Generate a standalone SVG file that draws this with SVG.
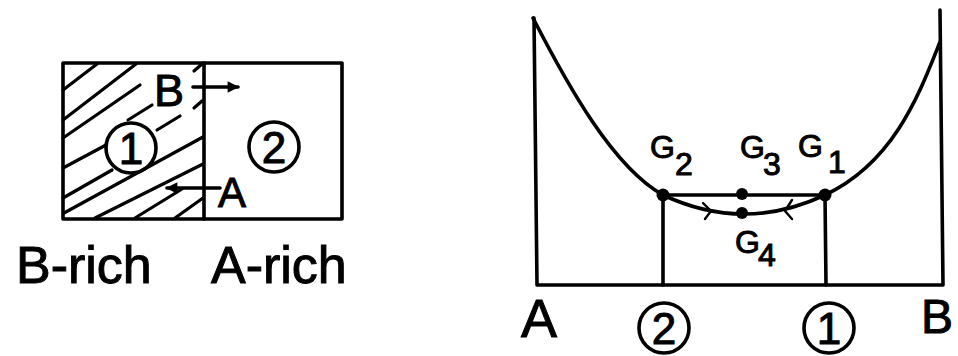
<svg xmlns="http://www.w3.org/2000/svg" width="958" height="356" viewBox="0 0 958 356">
<defs>
<style>
.ln{fill:none;stroke:#000;stroke-width:3.6;stroke-linecap:round;stroke-linejoin:round}
.th{fill:none;stroke:#000;stroke-width:3.2;stroke-linecap:round}
.thin{fill:none;stroke:#000;stroke-width:2.4;stroke-linecap:round;stroke-linejoin:round}
.dot{fill:#000}
.t{font-family:"Liberation Sans",Arial,sans-serif;fill:#000;stroke:#000;stroke-width:1}
</style>
<marker id="ah" viewBox="0 0 10 10" refX="9" refY="5" markerWidth="5" markerHeight="3.2" orient="auto" markerUnits="strokeWidth">
<path d="M0,0 L10,5 L0,10 Z" fill="#000"/>
</marker>
</defs>
<rect width="958" height="356" fill="#fff"/>

<!-- Left schematic -->
<g id="left-box">
<rect class="ln" x="63" y="63" width="279" height="156"/>
<line class="ln" x1="204" y1="63" x2="204" y2="219"/>
</g>
<g id="hatching">
<line class="th" x1="63" y1="90" x2="97" y2="64"/>
<line class="th" x1="63" y1="120" x2="136" y2="64"/>
<line class="th" x1="63" y1="138" x2="140" y2="85"/>
<line class="th" x1="63" y1="168" x2="106" y2="145"/>
<line class="th" x1="128" y1="120" x2="152" y2="105"/>
<line class="th" x1="157" y1="130" x2="180" y2="116"/>
<line class="th" x1="63" y1="198" x2="112" y2="170"/>
<line class="th" x1="64" y1="213" x2="203" y2="137"/>
<line class="th" x1="95" y1="218" x2="203" y2="164"/>
<line class="th" x1="135" y1="218" x2="182" y2="189"/>
<line class="th" x1="175" y1="218" x2="203" y2="198"/>
<line class="th" x1="194" y1="71" x2="202" y2="64"/>
<line class="th" x1="194" y1="108" x2="202" y2="101"/>
</g>
<g id="phase-1-left">
<circle class="ln" cx="131" cy="148" r="25" fill="#fff"/>
<text class="t" x="131" y="164" font-size="44" text-anchor="middle">1</text>
</g>
<g id="phase-2-left">
<circle class="ln" cx="274" cy="147" r="25"/>
<text class="t" x="274" y="163" font-size="44" text-anchor="middle">2</text>
</g>
<g id="label-B-left"><text class="t" x="154" y="106" font-size="45">B</text></g>
<g id="label-A-left"><text class="t" x="218" y="207" font-size="42">A</text></g>
<g id="label-rich">
<text class="t" x="16" y="283" font-size="52">B-rich</text>
<text class="t" x="211" y="283" font-size="52">A-rich</text>
</g>

<!-- Right diagram -->
<g id="axes">
<path class="ln" d="M534,18 L537,285 L943,285 L940,10"/>
</g>
<g id="curve">
<path class="ln" d="M533,18 C568,86 613,167 663,195 Q744,233 825,195 C895,162 920,92 940,42"/>
</g>
<g id="connectors">
<line class="ln" x1="663" y1="195" x2="825" y2="195"/>
<line class="ln" x1="663" y1="195" x2="663" y2="285"/>
<line class="ln" x1="825" y1="195" x2="826" y2="285"/>
<line class="ln" x1="193" y1="87" x2="238" y2="87" marker-end="url(#ah)"/>
<line class="ln" x1="220" y1="188" x2="167" y2="188" marker-end="url(#ah)"/>
<path class="thin" d="M703,203 L711,211 L705,219"/>
<path class="thin" d="M792,200 L785,211 L792,219"/>
</g>
<g id="G2"><circle class="dot" cx="663" cy="195" r="6.5"/>
<text class="t" x="650" y="158" font-size="32">G</text><text class="t" x="675" y="175" font-size="32">2</text></g>
<g id="G3"><circle class="dot" cx="742" cy="194" r="6"/>
<text class="t" x="740" y="158" font-size="32">G</text><text class="t" x="763" y="175" font-size="32">3</text></g>
<g id="G1"><circle class="dot" cx="825" cy="195" r="6.5"/>
<text class="t" x="798" y="157" font-size="32">G</text><text class="t" x="828" y="173" font-size="32">1</text></g>
<g id="G4"><circle class="dot" cx="742" cy="213" r="6"/>
<text class="t" x="735" y="253" font-size="32">G</text><text class="t" x="758" y="266" font-size="32">4</text></g>
<g id="label-A-right"><text class="t" x="521" y="337" font-size="54">A</text></g>
<g id="label-B-right"><text class="t" x="921" y="333" font-size="48">B</text></g>
<g id="phase-2-right">
<circle class="ln" cx="664" cy="328" r="25"/>
<text class="t" x="664" y="344" font-size="44" text-anchor="middle">2</text>
</g>
<g id="phase-1-right">
<circle class="ln" cx="829" cy="328" r="25"/>
<text class="t" x="829" y="344" font-size="44" text-anchor="middle">1</text>
</g>
</svg>
